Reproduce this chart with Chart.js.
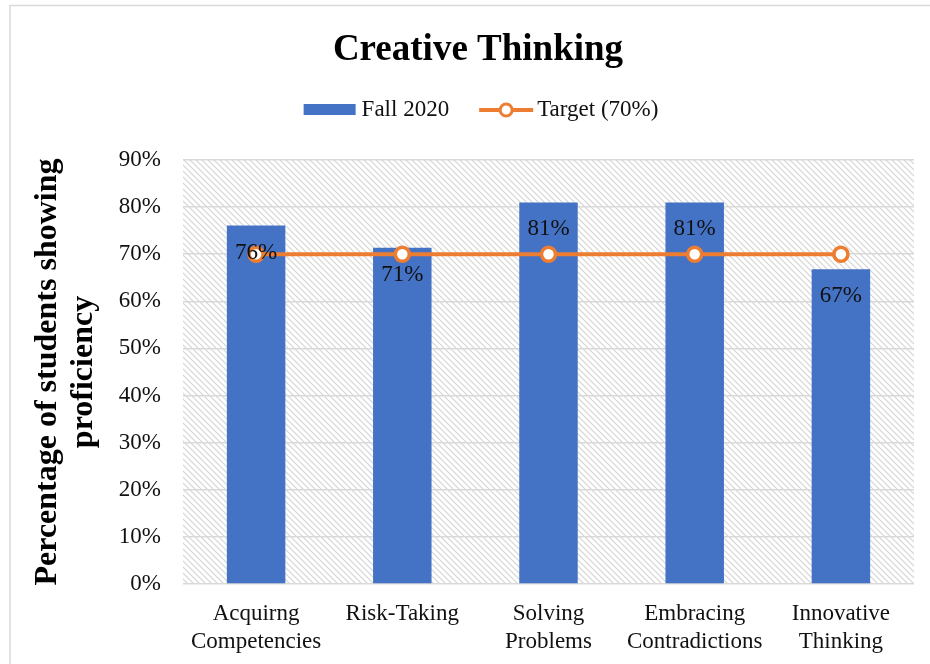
<!DOCTYPE html>
<html>
<head>
<meta charset="utf-8">
<script src="https://cdn.jsdelivr.net/npm/chart.js@4.4.1/dist/chart.umd.min.js"></script>
<style>
  html,body{ margin:0; padding:0; overflow:hidden; background:#fff; }
  #wrap{ width:956px; height:664px; }
</style>
</head>
<body>
<div id="wrap"><canvas id="c" width="956" height="664"></canvas></div>
<script>
(function(){
  'use strict';

  // datos
  const categories = [['Acquirng','Competencies'], ['Risk-Taking'], ['Solving','Problems'], ['Embracing','Contradictions'], ['Innovative','Thinking']];
  const fall2020 = [76.1, 71.4, 81.0, 81.0, 66.8];
  const target   = [70, 70, 70, 70, 70];
  const yTicks   = [0, 10, 20, 30, 40, 50, 60, 70, 80, 90];
  const chartTitle = 'Creative Thinking';

  const FONT = "'Liberation Serif', 'Times New Roman', serif";
  const BLUE = '#4472C4', ORANGE = '#ED7D31', GRID = '#d9d9d9';

  function hatch(ctx){
    const c = document.createElement('canvas'); c.width = c.height = 6;
    const g = c.getContext('2d');
    g.fillStyle = '#fff'; g.fillRect(0,0,6,6);
    g.strokeStyle = '#d4d4d4'; g.lineWidth = 1.2;
    g.beginPath();
    g.moveTo(0,0); g.lineTo(6,6);
    g.moveTo(-1,5); g.lineTo(1,7);
    g.moveTo(5,-1); g.lineTo(7,1);
    g.stroke();
    return ctx.createPattern(c, 'repeat');
  }

  // fondo rayado + borde del gráfico
  const bgPlugin = {
    id:'bg',
    beforeDraw(chart){
      const { ctx, chartArea:a } = chart;
      ctx.save();
      ctx.strokeStyle = GRID; ctx.lineWidth = 1.5;
      ctx.strokeRect(10, 5.5, 936, 720);
      ctx.fillStyle = hatch(ctx);
      ctx.fillRect(a.left, a.top, a.right - a.left, a.bottom - a.top);
      ctx.restore();
    }
  };

  // título + leyenda dibujados a mano (el cuadro del gráfico sigue más allá del borde derecho)
  const headerPlugin = {
    id:'header',
    afterDraw(chart){
      const ctx = chart.ctx;
      ctx.save();
      ctx.fillStyle = '#000';
      ctx.font = 'bold 37px ' + FONT;
      ctx.textAlign = 'center'; ctx.textBaseline = 'middle';
      ctx.fillText(chartTitle, 478, 50);

      const y = 110;
      ctx.textAlign = 'left';
      ctx.font = '23px ' + FONT;
      const t1 = chart.data.datasets[0].label, t2 = chart.data.datasets[1].label;
      const w1 = ctx.measureText(t1).width, w2 = ctx.measureText(t2).width;
      const total = 52 + 6 + w1 + 30 + 54 + 4 + w2;
      let x = 481 - total/2;
      ctx.fillStyle = BLUE; ctx.fillRect(x, y - 6, 52, 11);
      x += 58;
      ctx.fillStyle = '#111'; ctx.fillText(t1, x, y);
      x += w1 + 30;
      ctx.strokeStyle = ORANGE; ctx.lineWidth = 4;
      ctx.beginPath(); ctx.moveTo(x, y); ctx.lineTo(x + 54, y); ctx.stroke();
      ctx.beginPath(); ctx.arc(x + 27, y, 6, 0, Math.PI*2);
      ctx.fillStyle = '#fff'; ctx.fill(); ctx.lineWidth = 3; ctx.stroke();
      x += 58;
      ctx.fillStyle = '#111'; ctx.fillText(t2, x, y);
      ctx.restore();
    }
  };

  // etiquetas de valor dentro de las barras
  const labelsPlugin = {
    id:'valLabels',
    afterDatasetsDraw(chart){
      const ctx = chart.ctx;
      const meta = chart.getDatasetMeta(0);
      ctx.save();
      ctx.font = '23px ' + FONT;
      ctx.fillStyle = '#111';
      ctx.textAlign = 'center'; ctx.textBaseline = 'middle';
      meta.data.forEach((bar, i)=>{
        ctx.fillText(Math.round(fall2020[i]) + '%', bar.x, bar.y + 27);
      });
      ctx.restore();
    }
  };

  new Chart(document.getElementById('c'), {
    data: {
      labels: categories,
      datasets: [
        { type:'bar', label:'Fall 2020', data:fall2020, backgroundColor:BLUE,
          barPercentage:0.4, categoryPercentage:1.0, order:2 },
        { type:'line', label:'Target (70%)', data:target, borderColor:ORANGE, borderWidth:4,
          pointRadius:7, pointBorderWidth:3.5, pointBackgroundColor:'#fff', pointBorderColor:ORANGE,
          pointHoverRadius:7, order:1 }
      ]
    },
    options: {
      responsive:false,
      animation:false,
      layout:{ padding:{ left:0, right:42, top:160, bottom:0 } },
      plugins:{
        legend:{ display:false },
        tooltip:{ enabled:false },
        title:{ display:false }
      },
      scales:{
        x:{
          grid:{ display:false }, border:{ display:false },
          ticks:{ color:'#111', padding:8, maxRotation:0, font:{ family:FONT, size:23, lineHeight:1.22 } },
          afterFit(s){ s.height = 80; }
        },
        y:{
          min:0, max:90,
          afterBuildTicks(s){ s.ticks = yTicks.map(v=>({ value:v })); },
          grid:{ color:GRID, lineWidth:1.5, drawTicks:false },
          border:{ display:false },
          ticks:{ color:'#111', padding:22, callback:v=>v + '%', font:{ family:FONT, size:23 } },
          title:{ display:true, text:['Percentage of students showing','proficiency'], color:'#000',
            font:{ family:FONT, size:32, weight:'bold', lineHeight:1.15 }, padding:{ top:29, bottom:0 } },
          afterFit(s){ s.width = 183; }
        }
      }
    },
    plugins:[bgPlugin, headerPlugin, labelsPlugin]
  });
})();
</script>
</body>
</html>
